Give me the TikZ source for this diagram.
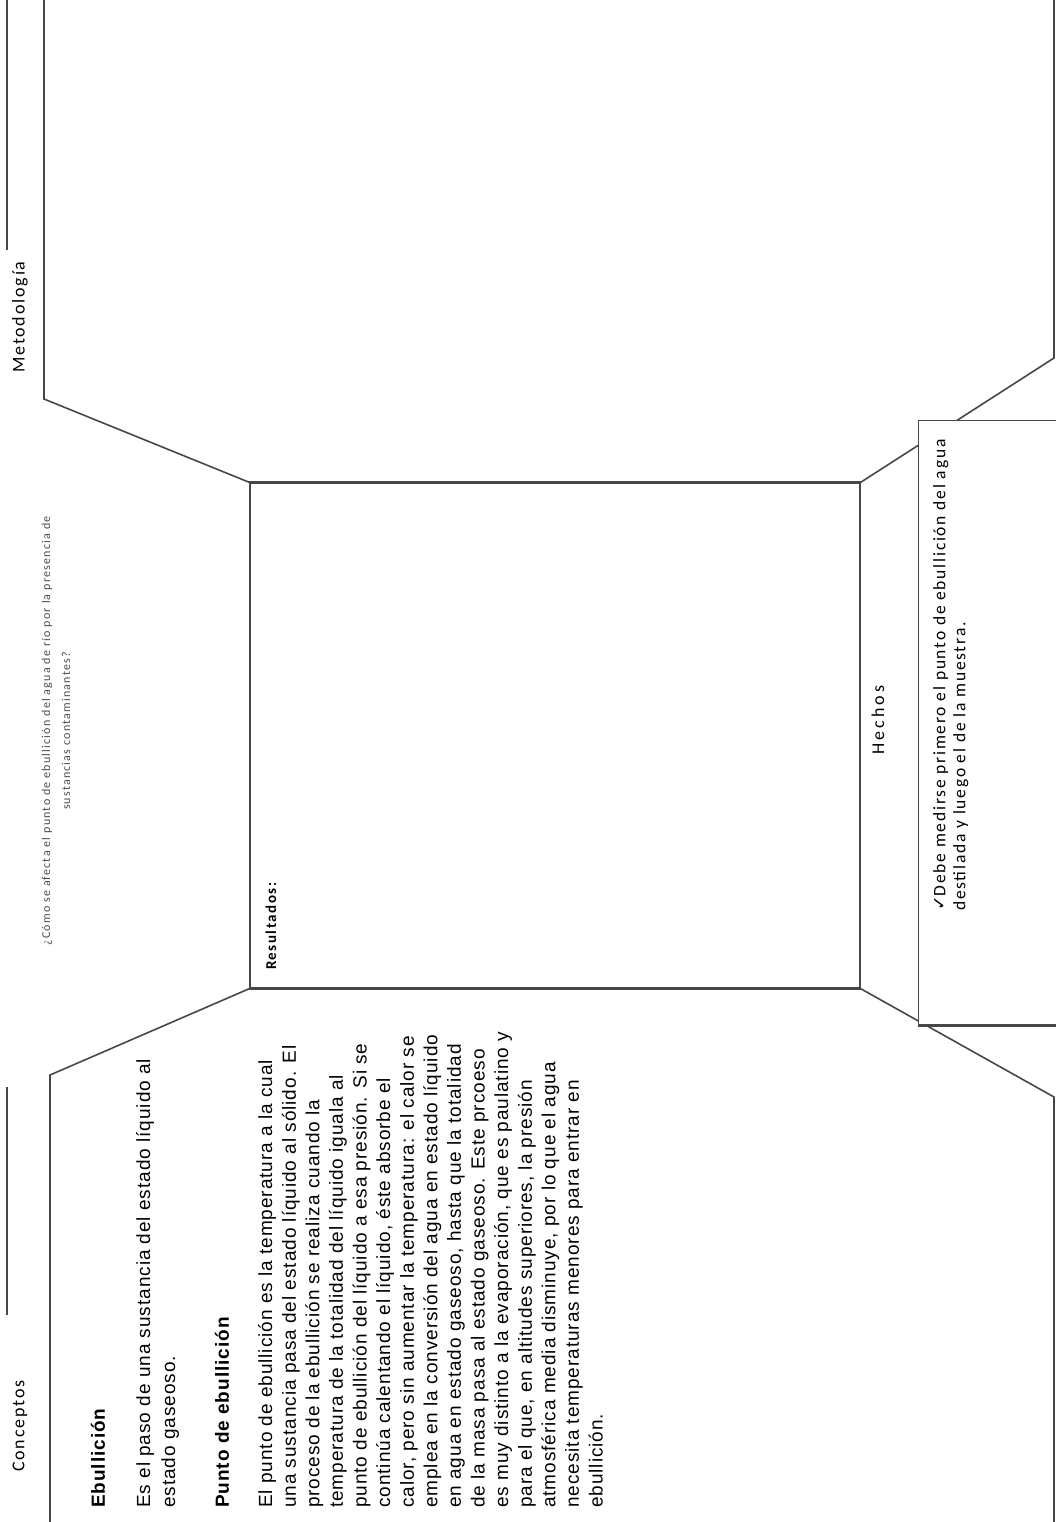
\documentclass[tikz,border=0pt]{standalone}
\usepackage{fontspec}
\setmainfont{Liberation Sans}[LetterSpace=5]
\newfontfamily\calfont{Carlito}[LetterSpace=10]
\newfontfamily\tinycal{Carlito}[LetterSpace=10]
\newfontfamily\tickfont{DejaVu Sans}
\usetikzlibrary{positioning}
\colorlet{linecol}{black!72}
\colorlet{askcol}{black!70}

\tikzset{
  frame/.style={draw=linecol, line width=1.6pt},
  edge/.style={draw=linecol, line width=2.8pt},
  panel/.style={draw=linecol, line width=1.3pt, fill=white, inner sep=0pt},
  side/.style={rotate=90, inner sep=0pt, anchor=west},
  title/.style={side, font=\calfont\fontsize{18}{20}\selectfont},
  head/.style={side, font=\bfseries\fontsize{19}{23.6}\selectfont},
  body/.style={rotate=90, inner sep=0pt, anchor=north west, align=left,
    font=\fontsize{19}{23.6}\selectfont},
}

\begin{document}
\begin{tikzpicture}[x=1pt,y=-1pt]
  \useasboundingbox (0,0) rectangle (1056,1522);
  % centre panel
  \node[panel, minimum width=610pt, minimum height=505pt] (res) at (555,735.5) {};
  \draw[edge] (res.north west) -- (res.north east);
  \draw[edge] (res.south west) -- (res.south east);
  % outer outline
  \coordinate (lt1) at (44,0);    \coordinate (lt2) at (44,399);
  \coordinate (lb1) at (50,1075); \coordinate (lb2) at (50,1522);
  \coordinate (rt1) at (1054,358); \coordinate (rt2) at (1054,0);
  \coordinate (rb1) at (1054,1097); \coordinate (rb2) at (1054,1522);
  \draw[frame] (lt1) -- (lt2) -- (res.north west);
  \draw[frame] (res.south west) -- (lb1) -- (lb2);
  \draw[frame] (res.north east) -- (rt1) -- (rt2);
  \draw[frame] (res.south east) -- (rb1) -- (rb2);
  % facts panel
  \node[panel, minimum width=180pt, minimum height=604pt, anchor=north west] (facts) at (918,420) {};
  \draw[edge] (facts.south west) -- (facts.south east);
  % section titles
  \coordinate (m1) at (7,0);    \coordinate (m2) at (7,250);
  \coordinate (c1) at (7,1087); \coordinate (c2) at (7,1315);
  \draw[frame] (m1) -- (m2);
  \draw[frame] (c1) -- (c2);
  \node[title] (meto) at (20,373) {Metodología};
  \node[title] (conc) at (20,1472) {Conceptos};
  \node[title, anchor=center, font=\calfont\fontsize{18}{20}\selectfont\addfontfeatures{LetterSpace=16}] (hech) at (878,720) {Hechos};
  \node[side, font=\calfont\bfseries\fontsize{15}{16}\selectfont] (rtit) at (271,970) {Resultados:};
  % question
  \node[rotate=90, align=center, inner sep=0pt, text=askcol,
    font=\tinycal\fontsize{12}{20}\selectfont] (ask) at (56,731)
    {¿Cómo se afecta el punto de ebullición del agua de río por la presencia de\\
     sustancias contaminantes?};
  % facts text
  \node[rotate=90, anchor=north west, align=left, inner sep=0pt,
    font=\calfont\fontsize{17.5}{20}\selectfont] (fact) at (933,911)
    {{\tickfont ✓}Debe medirse primero el punto de ebullición del agua\\
     destilada y luego el de la muestra.};
  % concepts
  \node[head] (ebu) at (98,1508) {Ebullición};
  \node[body, font=\fontsize{19}{25}\selectfont] (def) at (136,1508)
    {Es el paso de una sustancia del estado líquido al\\
     estado gaseoso.};
  \node[head] (pto) at (222,1508) {Punto de ebullición};
  \node[body] (para) at (258,1508)
    {El punto de ebullición es la temperatura a la cual\\
     una sustancia pasa del estado líquido al sólido. El\\
     proceso de la ebullición se realiza cuando la\\
     temperatura de la totalidad del líquido iguala al\\
     punto de ebullición del líquido a esa presión. Si se\\
     continúa calentando el líquido, éste absorbe el\\
     calor, pero sin aumentar la temperatura: el calor se\\
     emplea en la conversión del agua en estado líquido\\
     en agua en estado gaseoso, hasta que la totalidad\\
     de la masa pasa al estado gaseoso. Este prcoeso\\
     es muy distinto a la evaporación, que es paulatino y\\
     para el que, en altitudes superiores, la presión\\
     atmosférica media disminuye, por lo que el agua\\
     necesita temperaturas menores para entrar en\\
     ebullición.};
\end{tikzpicture}
\end{document}
